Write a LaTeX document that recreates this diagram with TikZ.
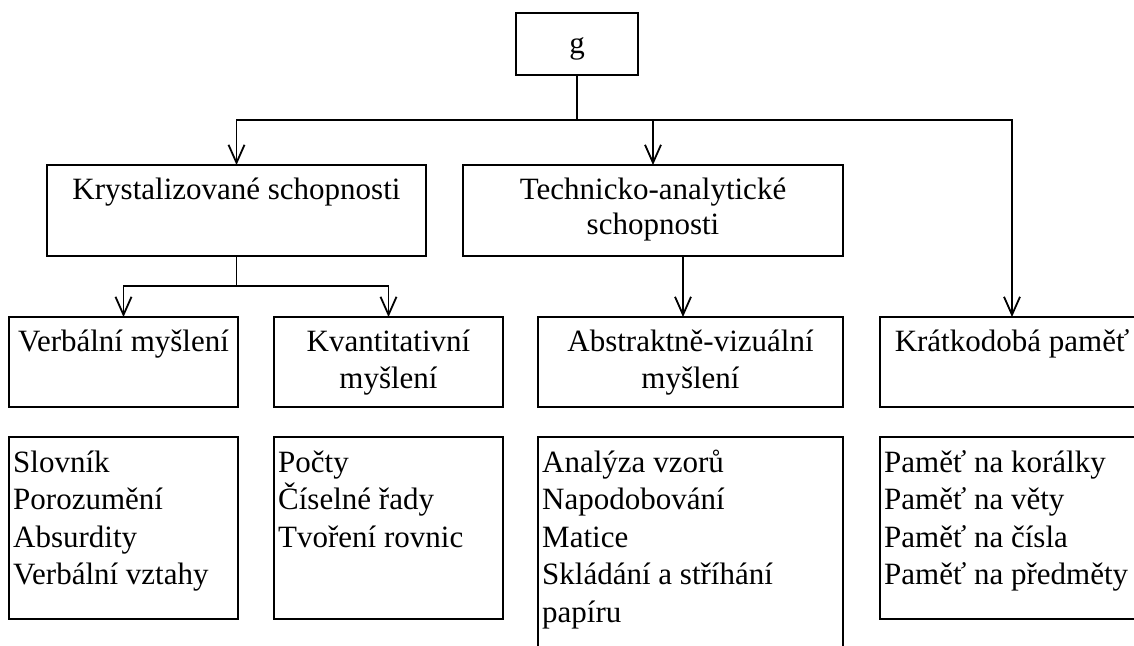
\documentclass[tikz,border=0pt]{standalone}
\usepackage{fontspec}
\setmainfont{Liberation Serif}
\usetikzlibrary{arrows.meta}
\begin{document}
\begin{tikzpicture}[x=1pt,y=-1pt,
  box/.style={draw, line width=1.8pt, inner sep=0pt, outer sep=0pt},
  lbl/.style={anchor=base, inner sep=0pt, font=\fontsize{31}{37}\selectfont},
  item/.style={anchor=base west, inner sep=0pt, font=\fontsize{31}{37}\selectfont},
  con/.style={line width=1.8pt},
  arr/.style={line width=1.8pt, -{Straight Barb[length=18pt,width=16pt,line width=1.8pt]}}
]
\useasboundingbox (0,0) rectangle (1134,645);
\clip (0,0) rectangle (1134,645);

% boxes
\node[box, minimum width=122, minimum height=62] (g) at (577,44) {};
\node[box, minimum width=379, minimum height=91] (kry) at (236.5,210.5) {};
\node[box, minimum width=380, minimum height=91] (tech) at (653,210.5) {};
\node[box, minimum width=229, minimum height=90] (verb) at (123.5,362) {};
\node[box, minimum width=229, minimum height=90] (kvant) at (388.5,362) {};
\node[box, minimum width=305, minimum height=90] (abst) at (690.5,362) {};
\node[box, minimum width=264, minimum height=90] (krat) at (1012,362) {};

\node[box, minimum width=229, minimum height=182] (verbL) at (123.5,528) {};
\node[box, minimum width=229, minimum height=182] (kvantL) at (388.5,528) {};
\node[box, minimum width=305, minimum height=228] (abstL) at (690.5,551) {};
\node[box, minimum width=264, minimum height=182] (kratL) at (1012,528) {};

% connectors
\coordinate (hub) at (577,120);
\draw[con] (g.south) -- (hub);
\draw[arr] (hub) -| (kry.north);
\draw[arr] (hub) -| (tech.north);
\draw[arr] (hub) -| (krat.north);
\path (kry.south) ++(0,30) coordinate (hub2);
\draw[con] (kry.south) -- (hub2);
\draw[arr] (hub2) -| (verb.north);
\draw[arr] (hub2) -| (kvant.north);
\path (tech.south) ++(30,0) coordinate (t1);
\draw[arr] (t1) -- (t1 |- abst.north);

% labels
\node[lbl] (tg) at (577,53) {g};
\node[lbl] (tk) at (236.5,199) {Krystalizované schopnosti};
\node[lbl] (tt1) at (653,199) {Technicko-analytické};
\node[lbl] (tt2) at (653,234) {schopnosti};
\node[lbl] (tv) at (123.5,351) {Verbální myšlení};
\node[lbl] (tq1) at (388.5,351) {Kvantitativní};
\node[lbl] (tq2) at (388.5,388) {myšlení};
\node[lbl] (ta1) at (690.5,351) {Abstraktně-vizuální};
\node[lbl] (ta2) at (690.5,388) {myšlení};
\node[lbl] (tm) at (1012,351) {Krátkodobá paměť};

% lists
\foreach \t [count=\i from 0] in {Slovník, Porozumění, Absurdity, Verbální vztahy}
  \node[item] (va\i) at (13,{472+37.5*\i}) {\t};
\foreach \t [count=\i from 0] in {Počty, Číselné řady, Tvoření rovnic}
  \node[item] (qa\i) at (278,{472+37.5*\i}) {\t};
\foreach \t [count=\i from 0] in {Analýza vzorů, Napodobování, Matice, Skládání a stříhání, papíru}
  \node[item] (aa\i) at (542,{472+37.5*\i}) {\t};
\foreach \t [count=\i from 0] in {Paměť na korálky, Paměť na věty, Paměť na čísla, Paměť na předměty}
  \node[item] (ma\i) at (884,{472+37.5*\i}) {\t};
\end{tikzpicture}
\end{document}
